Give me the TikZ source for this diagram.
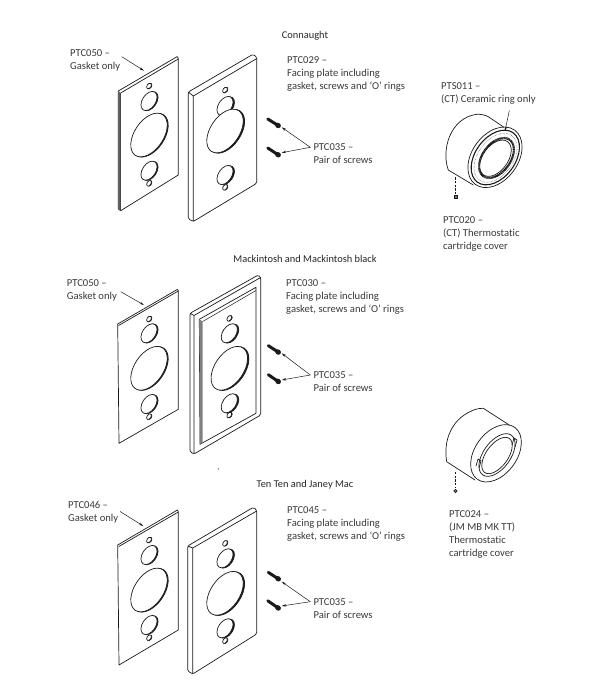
\documentclass[tikz,border=0pt]{standalone}
\usepackage{fontspec}
\setmainfont[Ligatures=NoCommon]{Carlito}
\usetikzlibrary{arrows.meta}
\definecolor{ink}{HTML}{1A1A1A}
\definecolor{txt}{HTML}{3A3A3A}
\tikzset{
  pl/.style={draw=ink,line width=0.7pt,line join=round},
  lbl/.style={anchor=north west,inner sep=0pt,align=left,text=txt,font=\fontsize{10.6}{13}\selectfont,execute at begin node=\strut},
  ttl/.style={inner sep=0pt,text=black!85,font=\fontsize{10.4}{12}\selectfont},
  ptr/.style={draw=ink,line width=0.5pt,-{Stealth[length=4.5pt,width=2.4pt]}},
}
\newcommand\Hole[6]{% x y a b dx dy
  \draw[pl,fill=ink] ({#1+#5},{#2+#6}) ellipse[x radius=#3pt,y radius=#4pt,rotate=56];
  \draw[pl,fill=white] (#1,#2) ellipse[x radius=#3pt,y radius=#4pt,rotate=56];}
\newcommand\HoleSet[8]{% x ysmall1 yupper ybig ylower ysmall2 crescent dy
  \Hole{#1}{#2}{3.1}{2}{0.5}{0.1}
  \Hole{#1}{#3}{10.6}{6.6}{#7}{#8}
  \Hole{#1}{#4}{24.5}{14.5}{#7}{#8}
  \Hole{#1}{#5}{10.6}{6.6}{#7}{#8}
  \Hole{#1}{#6}{3.1}{2}{0.5}{0.1}}
\newcommand\Screw[4]{% x1 y1 x2 y2
  \draw[draw=ink,line width=3pt,line cap=round] ({#1+(#3-#1)*0.08},{#2+(#4-#2)*0.08}) -- ({#1+(#3-#1)*0.8},{#2+(#4-#2)*0.8});
  \draw[draw=ink,line width=5pt,line cap=round] ({#1+(#3-#1)*0.82},{#2+(#4-#2)*0.82}) -- ({#1+(#3-#1)*0.88},{#2+(#4-#2)*0.88});}
\newcommand\Lbl[4]{\node[lbl] (#1) at (#2,{#3-3.6}) {#4};}
\begin{document}
\begin{tikzpicture}[x=1pt,y=-1pt]
\useasboundingbox (0,0) rectangle (600,687);
\fill[white] (0,0) rectangle (600,687);

%% titles
\node[ttl] (t1) at (305,36) {Connaught};
\node[ttl] (t2) at (305,259) {Mackintosh and Mackintosh black};
\node[ttl] (t3) at (305,485) {Ten Ten and Janey Mac};

%% ---------- Section 1 ----------
\draw[pl,fill=white] (118.3,91) -- (177.2,56.6) -- (178.3,58.2) -- (178.3,175) -- (120.7,210.7) -- (118.3,209) -- cycle;
\draw[pl] (120.7,93) -- (178.3,59);
\draw[pl] (120.7,93) -- (120.7,210.7);
\fill[ink!70] (118.3,91) -- (120.7,93) -- (120.7,210.7) -- (118.3,209) -- cycle;
\HoleSet{149}{86}{101}{135}{170.7}{183.3}{1}{0.2}
\draw[pl,fill=white,rounded corners=1.5pt] (188.3,92) -- (253,54.3) -- (256.7,57) -- (256.7,183.3) -- (193.3,221.5) -- (188.3,219) -- cycle;
\draw[pl] (193.3,96) -- (256.7,58.6) (193.3,96) -- (193.3,221.5) (188.3,92) -- (193.3,96);
\HoleSet{225}{90}{106}{131}{175}{187.3}{1.4}{0.3}
\Screw{266.7}{118.3}{280}{126.7}
\Screw{266.7}{147.3}{280}{156}
\Lbl{a1}{70}{52.7}{PTC050 –\\Gasket only}
\Lbl{a2}{287}{60}{PTC029 –\\Facing plate including\\gasket, screws and ‘O’ rings}
\Lbl{a3}{313.3}{147.3}{PTC035 –\\Pair of screws}
\coordinate (g1) at (144,70.7);
\coordinate (s1a) at (281.7,127.3);
\coordinate (s1b) at (281.7,152.7);
\draw[ptr] ([xshift=51.7pt,yshift=-7.6pt]a1.north west) -- (g1);
\draw[ptr] ([xshift=-3pt,yshift=-3.6pt]a3.north west) -- (s1a);
\draw[ptr] ([xshift=-3pt,yshift=-3.6pt]a3.north west) -- (s1b);

%% ---------- Section 2 ----------
\draw[pl,fill=white] (117.7,324) -- (177.4,289.4) -- (178.3,291) -- (178.3,409.3) -- (119,443.3) -- cycle;
\draw[pl] (118.6,325.5) -- (178.3,291);
\HoleSet{149}{319}{333.3}{368.3}{404}{416.7}{1}{0.2}
\draw[pl,fill=white,rounded corners=1.5pt] (190,313.3) -- (258.3,275) -- (260.7,277.5) -- (260.7,415) -- (194,454) -- (190,451.7) -- cycle;
\draw[pl] (194,315.5) -- (260.7,277.5) (194,315.5) -- (194,454) (190,313.3) -- (194,315.5);
\draw[pl] (199.3,319.3) -- (256,287.3) -- (256,413.3) -- (200,444.3) -- cycle;
\fill[ink!55] (199.3,319.3) -- (202.7,321.5) -- (202.7,442.5) -- (200,444.3) -- cycle;
\draw[draw=ink,line width=0.5pt] (202.7,321.5) -- (256,290.5);
\HoleSet{229.3}{318.3}{333.3}{368.3}{403.3}{415}{1.4}{0.3}
\Screw{267.3}{345}{280}{353.3}
\Screw{267.3}{374}{280}{382.7}
\Lbl{b1}{66.7}{283.3}{PTC050 –\\Gasket only}
\Lbl{b2}{286}{283.3}{PTC030 –\\Facing plate including\\gasket, screws and ‘O’ rings}
\Lbl{b3}{313.3}{375}{PTC035 –\\Pair of screws}
\coordinate (g2) at (144,305);
\coordinate (s2a) at (281.7,353.3);
\coordinate (s2b) at (281.7,380);
\draw[ptr] ([xshift=54pt,yshift=-12pt]b1.north west) -- (g2);
\draw[ptr] ([xshift=-3pt,yshift=-3.6pt]b3.north west) -- (s2a);
\draw[ptr] ([xshift=-3pt,yshift=-3.6pt]b3.north west) -- (s2b);
\fill[ink] (218.3,469) circle[radius=0.6pt];

%% ---------- Section 3 ----------
\draw[pl,fill=white] (117.7,545) -- (177.4,510) -- (178.3,511.7) -- (178.3,630) -- (119,665) -- cycle;
\draw[pl] (118.8,546.5) -- (178.3,512);
\HoleSet{149}{540}{555}{590}{625}{637.7}{1}{0.2}
\draw[pl,fill=white,rounded corners=1.5pt] (187.7,546) -- (253.3,507.3) -- (256.7,510) -- (256.7,634) -- (192.7,674) -- (187.7,671) -- cycle;
\draw[pl] (192.7,548) -- (256.7,511) (192.7,548) -- (192.7,674) (187.7,546) -- (192.7,548);
\HoleSet{225}{543.3}{558.3}{593.3}{628.3}{640.7}{1.4}{0.3}
\Screw{267.3}{571.7}{280}{580}
\Screw{266.7}{600}{280}{609.3}
\Lbl{c1}{68}{505}{PTC046 –\\Gasket only}
\Lbl{c2}{287}{510}{PTC045 –\\Facing plate including\\gasket, screws and ‘O’ rings}
\Lbl{c3}{313.3}{601.7}{PTC035 –\\Pair of screws}
\coordinate (g3) at (143.3,526);
\coordinate (s3a) at (281.7,581.7);
\coordinate (s3b) at (281.7,606);
\draw[ptr] ([xshift=52pt,yshift=-10pt]c1.north west) -- (g3);
\draw[ptr] ([xshift=-3pt,yshift=-3.6pt]c3.north west) -- (s3a);
\draw[ptr] ([xshift=-3pt,yshift=-3.6pt]c3.north west) -- (s3b);

%% ---------- Ceramic cartridge cover ----------
\draw[pl,fill=white] (473.3,185) -- (448.3,170) .. controls (441,150) and (450,118) .. (476.7,114.3) .. controls (481,114) and (485,115) .. (488.3,116.7) -- (505,128);
\draw[pl,fill=white] (495,157.3) ellipse[x radius=33.5pt,y radius=23pt,rotate=54];
\draw[draw=ink,line width=1.1pt] (495.3,157.5) ellipse[x radius=30.5pt,y radius=20pt,rotate=54];
\draw[draw=ink,line width=0.4pt,densely dotted] (495.5,157.8) ellipse[x radius=27.5pt,y radius=17.5pt,rotate=54];
\draw[draw=ink,line width=2.2pt,dash pattern=on 0.5pt off 0.4pt] (496.5,158) ellipse[x radius=22.5pt,y radius=14pt,rotate=54];
\draw[pl,fill=white] (495.5,158.2) ellipse[x radius=20.5pt,y radius=12.5pt,rotate=54];
\draw[draw=ink,line width=0.7pt,dash pattern=on 2.2pt off 1.5pt] (455.7,177.3) -- (455.7,194);
\draw[draw=ink,fill=ink!60,line width=0.7pt] (454.3,195.8) rectangle (457.3,198.6);
\Lbl{d1}{441}{86}{PTS011 –\\(CT) Ceramic ring only}
\Lbl{d2}{443}{220}{PTC020 –\\(CT) Thermostatic\\cartridge cover}
\coordinate (r1) at (505,131);
\draw[ptr] ([xshift=68.3pt,yshift=-28.3pt]d1.north west) -- (r1);

%% ---------- Cover PTC024 ----------
\draw[pl,fill=white] (475,480) -- (446.7,461.7) .. controls (443,440) and (452,420) .. (470,411.7) .. controls (475,409) and (479,408.3) .. (483.3,408.3) -- (517,430);
\draw[pl,fill=white] (496,453.3) ellipse[x radius=32pt,y radius=21pt,rotate=54];
\draw[pl] (497,455) ellipse[x radius=24.5pt,y radius=13.5pt,rotate=54];
\draw[pl,fill=white] (497,455.5) ellipse[x radius=21pt,y radius=11pt,rotate=54];
\draw[pl] (476,466) -- (478,459) -- (481,461) -- (479,468);
\draw[pl] (512,445) -- (514,438) -- (517,440) -- (515,447);
\draw[draw=ink,line width=0.7pt,dash pattern=on 2.2pt off 1.5pt] (455,472) -- (455,488);
\draw[draw=ink,fill=ink!50,line width=0.7pt] (455.5,491) circle[radius=1.7pt];
\Lbl{e1}{449}{514}{PTC024 –\\(JM MB MK TT)\\Thermostatic\\cartridge cover}
\end{tikzpicture}
\end{document}
